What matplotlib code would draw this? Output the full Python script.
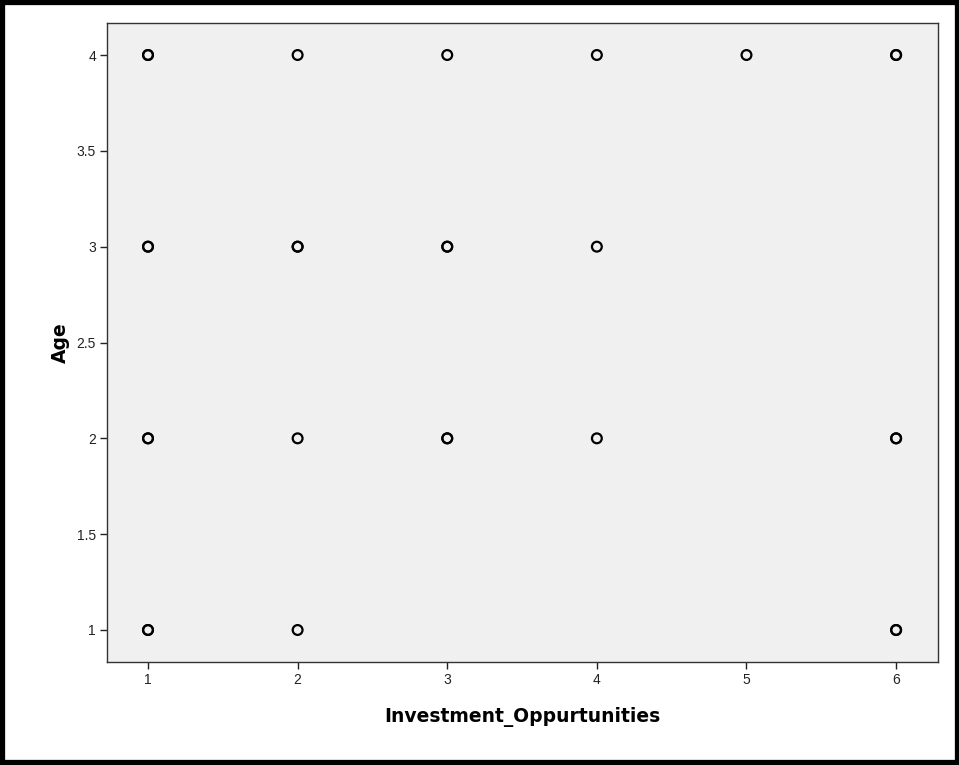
import matplotlib
matplotlib.use("Agg")
import matplotlib.pyplot as plt
from matplotlib.patches import Rectangle

plt.rcParams['font.family'] = ['Liberation Sans', 'DejaVu Sans']

# observed points (repeated entries = overlapping cases, drawn bolder)
invest = [1, 1, 2, 3, 4, 5, 6, 6,
          1, 1, 2, 2, 3, 3, 4,
          1, 1, 2, 3, 3, 4, 6, 6,
          1, 1, 2, 6, 6]
age = [4, 4, 4, 4, 4, 4, 4, 4,
       3, 3, 3, 3, 3, 3, 3,
       2, 2, 2, 2, 2, 2, 2, 2,
       1, 1, 1, 1, 1]
x_ticks = [1, 2, 3, 4, 5, 6]
y_ticks = [1, 1.5, 2, 2.5, 3, 3.5, 4]
y_tick_labels = ["1", "1.5", "2", "2.5", "3", "3.5", "4"]

fig = plt.figure(figsize=(9.59, 7.65), dpi=100)
ax = fig.add_axes([107 / 959, 1 - 662 / 765, (938 - 107) / 959, (662 - 23) / 765])
ax.set_facecolor("#f0f0f0")

ax.scatter(invest, age, s=50, facecolors="none", edgecolors="black", linewidths=1.6, zorder=3)

ax.set_xlim(0.726, 6.28)
ax.set_ylim(0.833, 4.167)
ax.set_xticks(x_ticks)
ax.set_xticklabels([str(v) for v in x_ticks])
ax.set_yticks(y_ticks)
ax.set_yticklabels(y_tick_labels)
ax.tick_params(direction="out", length=5, width=1, labelsize=10, colors="#222222", pad=3)
for s in ax.spines.values():
    s.set_linewidth(1)
    s.set_color("#333333")

ax.set_xlabel("Investment_Oppurtunities", fontsize=13.5, fontweight="bold",
              family="DejaVu Sans", labelpad=14)
ax.set_ylabel("Age", fontsize=13.5, fontweight="bold", family="DejaVu Sans", labelpad=5)

# thick frame around the whole picture
fig.patches.append(Rectangle((0.0025, 0.004), 0.995, 0.993, transform=fig.transFigure,
                             fill=False, edgecolor="black", linewidth=3.8))

fig.savefig("out.png", dpi=100)
